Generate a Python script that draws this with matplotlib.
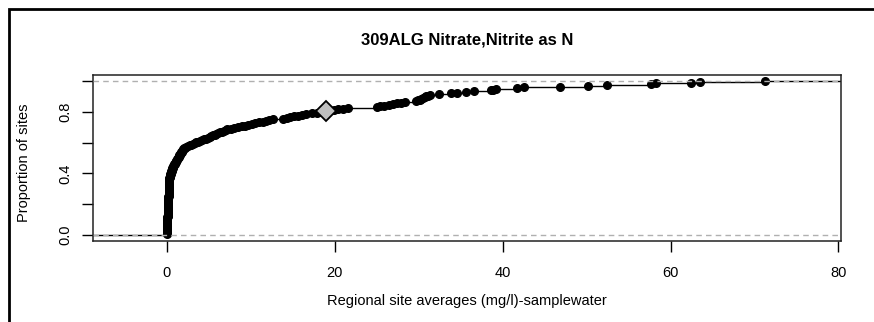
import matplotlib
matplotlib.use("Agg")
import matplotlib.pyplot as plt
import numpy as np
from matplotlib.patches import Rectangle

plt.rcParams['font.family'] = ['Liberation Sans', 'DejaVu Sans']

title = "309ALG Nitrate,Nitrite as N"
xlabel = "Regional site averages (mg/l)-samplewater"
ylabel = "Proportion of sites"

# Regional site averages (sorted)
site_values = [
    0.00, 0.00, 0.00, 0.01, 0.01, 0.01, 0.02, 0.02, 0.02, 0.03,
    0.03, 0.03, 0.04, 0.04, 0.04, 0.05, 0.05, 0.05, 0.06, 0.06,
    0.06, 0.07, 0.07, 0.08, 0.08, 0.08, 0.09, 0.09, 0.10, 0.10,
    0.10, 0.11, 0.11, 0.12, 0.12, 0.12, 0.13, 0.13, 0.14, 0.14,
    0.15, 0.15, 0.16, 0.16, 0.17, 0.17, 0.18, 0.18, 0.19, 0.19,
    0.20, 0.20, 0.21, 0.21, 0.22, 0.22, 0.23, 0.23, 0.24, 0.24,
    0.25, 0.25, 0.26, 0.26, 0.27, 0.27, 0.28, 0.28, 0.29, 0.29,
    0.30, 0.30, 0.30, 0.30,
    0.32, 0.35, 0.37, 0.40, 0.42, 0.45, 0.48, 0.50, 0.53, 0.56,
    0.59, 0.62, 0.66, 0.70,
    0.74, 0.78, 0.83, 0.88, 0.93, 0.98, 1.03, 1.08, 1.13, 1.18,
    1.24, 1.30,
    1.35, 1.40, 1.45, 1.50, 1.55, 1.60, 1.66, 1.71, 1.77, 1.83,
    1.89, 1.95, 2.02, 2.10,
    2.30, 2.50, 2.70, 2.90, 3.10, 3.30, 3.50, 3.70,
    3.95, 4.20, 4.45, 4.70, 4.90, 5.10, 5.30,
    5.50, 5.70, 5.90, 6.10, 6.30, 6.55, 6.80, 7.00, 7.20,
    7.60, 8.00, 8.50, 8.90,
    9.30, 9.70, 10.10, 10.50,
    11.00, 11.40, 11.80, 12.20, 12.60,
    13.80, 14.30, 14.70, 15.20, 15.60, 16.10, 16.60,
    17.30, 17.90, 18.40,
    19.00,
    19.90, 20.40, 21.00, 21.60,
    25.00, 25.40, 25.90, 26.40,
    26.90, 27.40, 27.90, 28.40,
    29.70, 29.90, 30.10, 30.30, 30.50, 30.70, 30.90, 31.10, 31.30,
    32.40,
    33.80, 34.50, 35.60,
    36.60,
    38.60, 38.90, 39.20,
    41.70, 42.50,
    46.80,
    50.20, 52.40,
    57.70, 58.30,
    62.40, 63.50,
    71.30,
]

# Highlighted site
highlight_value = 19.00

xticks = [0, 20, 40, 60, 80]
yticks = [0.0, 0.2, 0.4, 0.6, 0.8, 1.0]
yticklabels = ["0.0", "", "0.4", "", "0.8", ""]

x = np.sort(np.array(site_values))
n = len(x)
y = np.arange(1, n + 1) / n

W, H = 874, 322
fig = plt.figure(figsize=(W / 100, H / 100), dpi=100)
ax = fig.add_axes([93 / W, 1 - 241 / H, (841 - 93) / W, (241 - 75) / H])

xmin, xmax = -8.8, 80.3
ax.set_xlim(xmin, xmax)
ax.set_ylim(-0.04, 1.04)

# step segments (no verticals), like R plot.ecdf
xs_left = np.concatenate([[xmin - 10], x])
xs_right = np.concatenate([x, [xmax + 10]])
ys = np.concatenate([[0.0], y])
ax.hlines(ys, xs_left, xs_right, colors='black', lw=1.0, zorder=2)
ax.plot(x, y, 'o', color='black', markersize=5.5, zorder=3)

# reference lines on top
for h in (0.0, 1.0):
    ax.axhline(h, color='#b0b0b0', lw=1.0, ls=(0, (4, 3)), zorder=4)

hi_idx = np.searchsorted(x, highlight_value, side='right')
ax.plot([highlight_value], [hi_idx / n], 'D', markersize=10, markerfacecolor='#c0c0c0',
        markeredgecolor='black', markeredgewidth=1.3, zorder=5)

ax.set_xticks(xticks)
ax.set_xticklabels([str(t) for t in xticks])
ax.set_yticks(yticks)
ax.set_yticklabels(yticklabels, rotation=90, va='center')
ax.tick_params(axis='both', direction='out', length=8, width=1, colors='black',
               labelsize=10.5, pad=7)
ax.tick_params(axis='x', pad=10)
for s in ax.spines.values():
    s.set_linewidth(1.1)
    s.set_color('#222222')

fig.text((93 + 841) / 2 / W, 1 - 40 / H, title, ha='center', va='center',
         fontsize=12, fontweight='bold')
fig.text((93 + 841) / 2 / W, 1 - 301 / H, xlabel, ha='center', va='center', fontsize=10.5)
fig.text(24 / W, 1 - 163 / H, ylabel, ha='center', va='center', rotation=90, fontsize=10.5)

# outer frame
fig.patches.append(Rectangle((9 / W, -0.2), 1.2, 1 - 9 / H + 0.2, transform=fig.transFigure,
                             fill=False, edgecolor='black', lw=2.0))

fig.savefig('out.png', dpi=100)
